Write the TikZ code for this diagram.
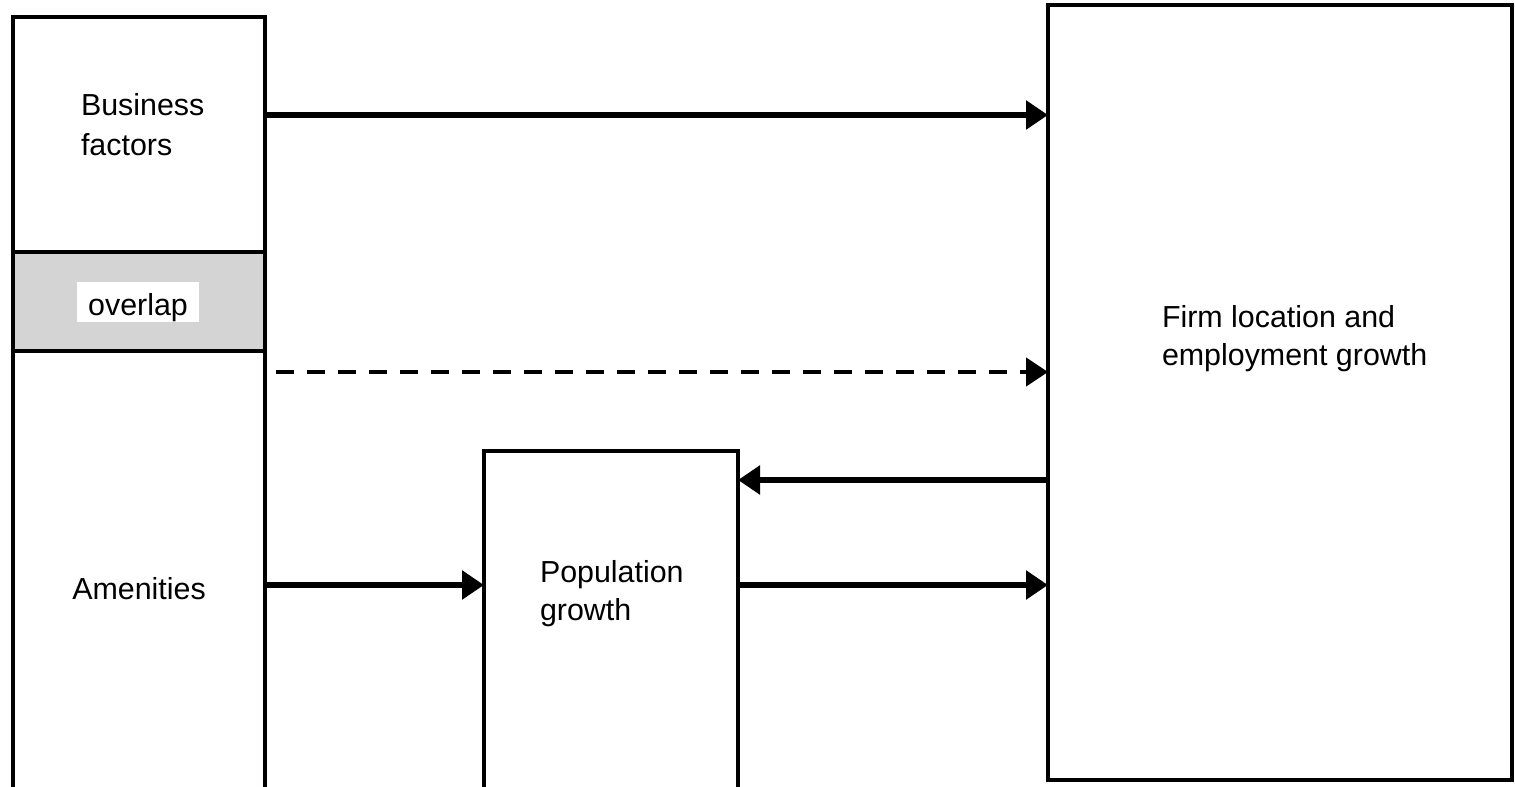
\documentclass[tikz,border=0pt]{standalone}
\usepackage{fontspec}
\setmainfont{Liberation Sans}
\usetikzlibrary{arrows.meta}

\tikzset{
  frame/.style={draw=black, line width=3.7pt, inner sep=0pt, outer sep=0pt, anchor=north west},
  label/.style={inner sep=0pt, outer sep=0pt, align=left, anchor=north west,
    font=\fontsize{22.8pt}{29pt}\selectfont},
  arr/.style={line width=4.4pt, -{Triangle[length=16.5pt,width=21pt]}},
  dasharr/.style={line width=3.4pt, dash pattern=on 13.5pt off 9.75pt,
    -{Triangle[length=16.5pt,width=21pt]}},
}

\begin{document}
\begin{tikzpicture}[x=0.75pt, y=-0.75pt]
  \useasboundingbox (0,0) rectangle (1515,787);
  \clip (0,0) rectangle (1515,787);

  % left column: business factors, shared band, amenities
  \node[frame, minimum width=252*0.75pt, minimum height=235*0.75pt] (biz) at (13,17) {};
  \node[frame, fill={rgb,255:red,212;green,212;blue,212}, minimum width=252*0.75pt, minimum height=99*0.75pt] (ovl) at (13,252) {};
  \node[frame, minimum width=252*0.75pt, minimum height=460*0.75pt] (amen) at (13,351) {};

  % population growth and firm location boxes
  \node[frame, minimum width=254*0.75pt, minimum height=360*0.75pt] (pop) at (484,451) {};
  \node[frame, minimum width=464*0.75pt, minimum height=775*0.75pt] (firm) at (1048,5) {};

  % box texts
  \node[label, font=\fontsize{22.8pt}{30pt}\selectfont] (tbiz) at (81,93) {Business\\factors};
  \node[fill=white, inner sep=0pt, anchor=base, text width=122*0.75pt, align=center,
        text height=34*0.75pt, text depth=6*0.75pt,
        font=\fontsize{22.8pt}{29pt}\selectfont] (tovl) at (138,316) {overlap};
  \node[label, anchor=base] (tamen) at (139,599) {Amenities};
  \node[label] (tpop) at (540,560) {Population\\growth};
  \node[label] (tfirm) at (1162,305) {Firm location and\\employment growth};

  % influences
  \draw[arr] (biz.east |- 0,115) -- (firm.west |- 0,115);
  \coordinate (dstart) at (276,372);
  \draw[dasharr] (dstart) -- (firm.west |- dstart);
  \draw[arr] (firm.west |- 0,480) -- (pop.east |- 0,480);
  \draw[arr] (amen.east |- 0,585) -- (pop.west |- 0,585);
  \draw[arr] (pop.east |- 0,585) -- (firm.west |- 0,585);
\end{tikzpicture}
\end{document}
